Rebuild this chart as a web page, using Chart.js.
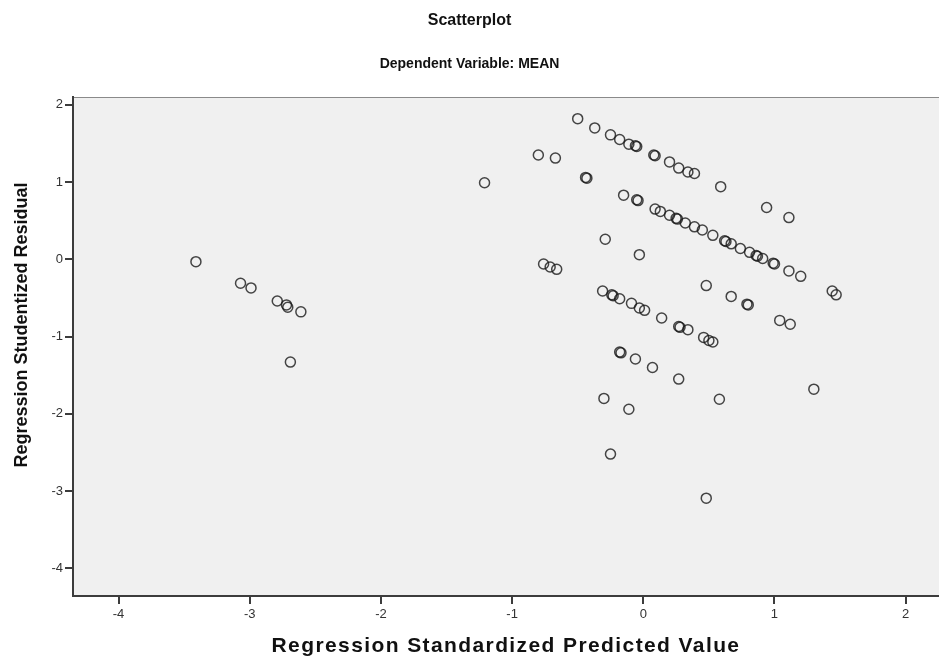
<!DOCTYPE html>
<html>
<head>
<meta charset="utf-8">
<title>Scatterplot</title>
<script src="https://cdn.jsdelivr.net/npm/chart.js@4/dist/chart.umd.min.js"></script>
<style>
  html, body { margin:0; padding:0; background:#fff; }
  #wrap { position:relative; width:939px; height:662px; }
</style>
</head>
<body>
<div id="wrap"><canvas id="chart"></canvas></div>
<script>
/* ── Data ── */
const predX = [
  -3.41, -3.07, -2.99, -2.79, -2.72, -2.71, -2.61, -2.69,
  -1.21, -0.80, -0.67, -0.50, -0.37, -0.25, -0.18, -0.11, -0.06, -0.05,
   0.08,  0.09,  0.20,  0.27,  0.34,  0.39,  0.59,
  -0.44, -0.43, -0.15, -0.05, -0.04,  0.09,  0.13,  0.20,  0.25,  0.26,
   0.32,  0.39,  0.45,  0.53,  0.62,  0.63,  0.67,  0.74,  0.81,  0.86,  0.87,
   0.91,  0.99,  1.00,  1.11,  1.20,  1.44,  1.47,  0.94,  1.11,
  -0.29, -0.03, -0.76, -0.71, -0.66,
  -0.31, -0.24, -0.23, -0.18, -0.09, -0.03,  0.01,  0.14,  0.27,  0.28,
   0.34,  0.46,  0.50,  0.53,
   0.48,  0.67,  0.79,  0.80,  1.04,  1.12,
  -0.18, -0.17, -0.06,  0.07,  0.27, -0.30, -0.11,  0.58,  1.30, -0.25,  0.48
];
const residY = [
  -0.03, -0.31, -0.37, -0.54, -0.59, -0.62, -0.68, -1.33,
   0.99,  1.35,  1.31,  1.82,  1.70,  1.61,  1.55,  1.49,  1.47,  1.46,
   1.35,  1.34,  1.26,  1.18,  1.13,  1.11,  0.94,
   1.06,  1.05,  0.83,  0.77,  0.76,  0.65,  0.62,  0.57,  0.53,  0.52,
   0.47,  0.42,  0.38,  0.31,  0.24,  0.23,  0.20,  0.14,  0.09,  0.05,  0.04,
   0.01, -0.05, -0.06, -0.15, -0.22, -0.41, -0.46,  0.67,  0.54,
   0.26,  0.06, -0.06, -0.10, -0.13,
  -0.41, -0.46, -0.47, -0.51, -0.57, -0.63, -0.66, -0.76, -0.87, -0.88,
  -0.91, -1.01, -1.05, -1.07,
  -0.34, -0.48, -0.58, -0.59, -0.79, -0.84,
  -1.20, -1.21, -1.29, -1.40, -1.55, -1.80, -1.94, -1.81, -1.68, -2.52, -3.09
];
const xTicks = [-4, -3, -2, -1, 0, 1, 2];
const yTicks = [2, 1, 0, -1, -2, -3, -4];

const titleText = 'Scatterplot';
const subtitleText = 'Dependent Variable: MEAN';
const xTitle = 'Regression Standardized Predicted Value';
const yTitle = 'Regression Studentized Residual';

const points = predX.map(function(x, i){ return { x: x, y: residY[i] }; });

const FONT = 'Arial, "Liberation Sans", Helvetica, sans-serif';
const AXIS = '#3c3c3c';

/* plot background + top border like SPSS */
const plotBg = {
  id: 'plotBg',
  beforeDraw: function(chart){
    const a = chart.chartArea, ctx = chart.ctx;
    ctx.save();
    ctx.fillStyle = '#f0f0f0';
    ctx.fillRect(a.left, a.top, a.right - a.left, a.bottom - a.top);
    ctx.strokeStyle = '#8a8a8a';
    ctx.lineWidth = 1;
    ctx.beginPath();
    ctx.moveTo(a.left, a.top + 0.5);
    ctx.lineTo(a.right, a.top + 0.5);
    ctx.stroke();
    ctx.restore();
  }
};

/* axis titles drawn by hand: SPSS puts the y title above the plot middle
   and spaces the x title a little wider than plain canvas text */
const axisTitles = {
  id: 'axisTitles',
  afterDraw: function(chart){
    const ctx = chart.ctx, a = chart.chartArea;
    ctx.save();
    ctx.fillStyle = '#111';
    ctx.textAlign = 'center';
    ctx.textBaseline = 'middle';

    ctx.font = 'bold 21px ' + FONT;
    if ('letterSpacing' in ctx) ctx.letterSpacing = '1.4px';
    ctx.fillText(xTitle, (a.left + a.right) / 2, 646);
    if ('letterSpacing' in ctx) ctx.letterSpacing = '0px';

    ctx.translate(22, 325);
    ctx.rotate(-Math.PI / 2);
    ctx.font = 'bold 18px ' + FONT;
    ctx.fillText(yTitle, 0, 0);
    ctx.restore();
  }
};

new Chart(document.getElementById('chart'), {
  type: 'scatter',
  data: {
    datasets: [{
      data: points,
      pointStyle: 'circle',
      pointRadius: 5,
      pointHoverRadius: 5,
      pointBorderWidth: 1.5,
      pointBorderColor: 'rgba(25,25,25,0.8)',
      pointBackgroundColor: 'rgba(0,0,0,0)'
    }]
  },
  options: {
    responsive: true,
    maintainAspectRatio: false,
    animation: false,
    layout: { autoPadding: false, padding: { left: 0, right: 0, top: 0, bottom: 0 } },
    plugins: {
      legend: { display: false },
      tooltip: { enabled: false },
      title: {
        display: true, text: titleText, color: '#111',
        font: { family: FONT, size: 16, weight: 'bold' },
        padding: { top: 11, bottom: 15 }
      },
      subtitle: {
        display: true, text: subtitleText, color: '#111',
        font: { family: FONT, size: 14, weight: 'bold' },
        padding: { top: 11, bottom: 24 }
      }
    },
    scales: {
      x: {
        type: 'linear',
        min: -4.347, max: 2.254,
        afterBuildTicks: function(s){ s.ticks = xTicks.map(function(v){ return { value: v }; }); },
        afterFit: function(s){ s.height = 66; },
        border: { display: true, color: AXIS, width: 2 },
        grid: { drawOnChartArea: false, drawTicks: true, tickLength: 8, color: AXIS, lineWidth: 2 },
        ticks: { color: '#333', font: { family: FONT, size: 13 }, padding: 3 },
        title: { display: false }
      },
      y: {
        type: 'linear',
        min: -4.356, max: 2.10,
        afterBuildTicks: function(s){ s.ticks = yTicks.map(function(v){ return { value: v }; }); },
        afterFit: function(s){ s.width = 73; },
        border: { display: true, color: AXIS, width: 2 },
        grid: { drawOnChartArea: false, drawTicks: true, tickLength: 8, color: AXIS, lineWidth: 2 },
        ticks: { color: '#333', font: { family: FONT, size: 13 }, padding: 2 },
        title: { display: false }
      }
    }
  },
  plugins: [plotBg, axisTitles]
});
</script>
</body>
</html>
